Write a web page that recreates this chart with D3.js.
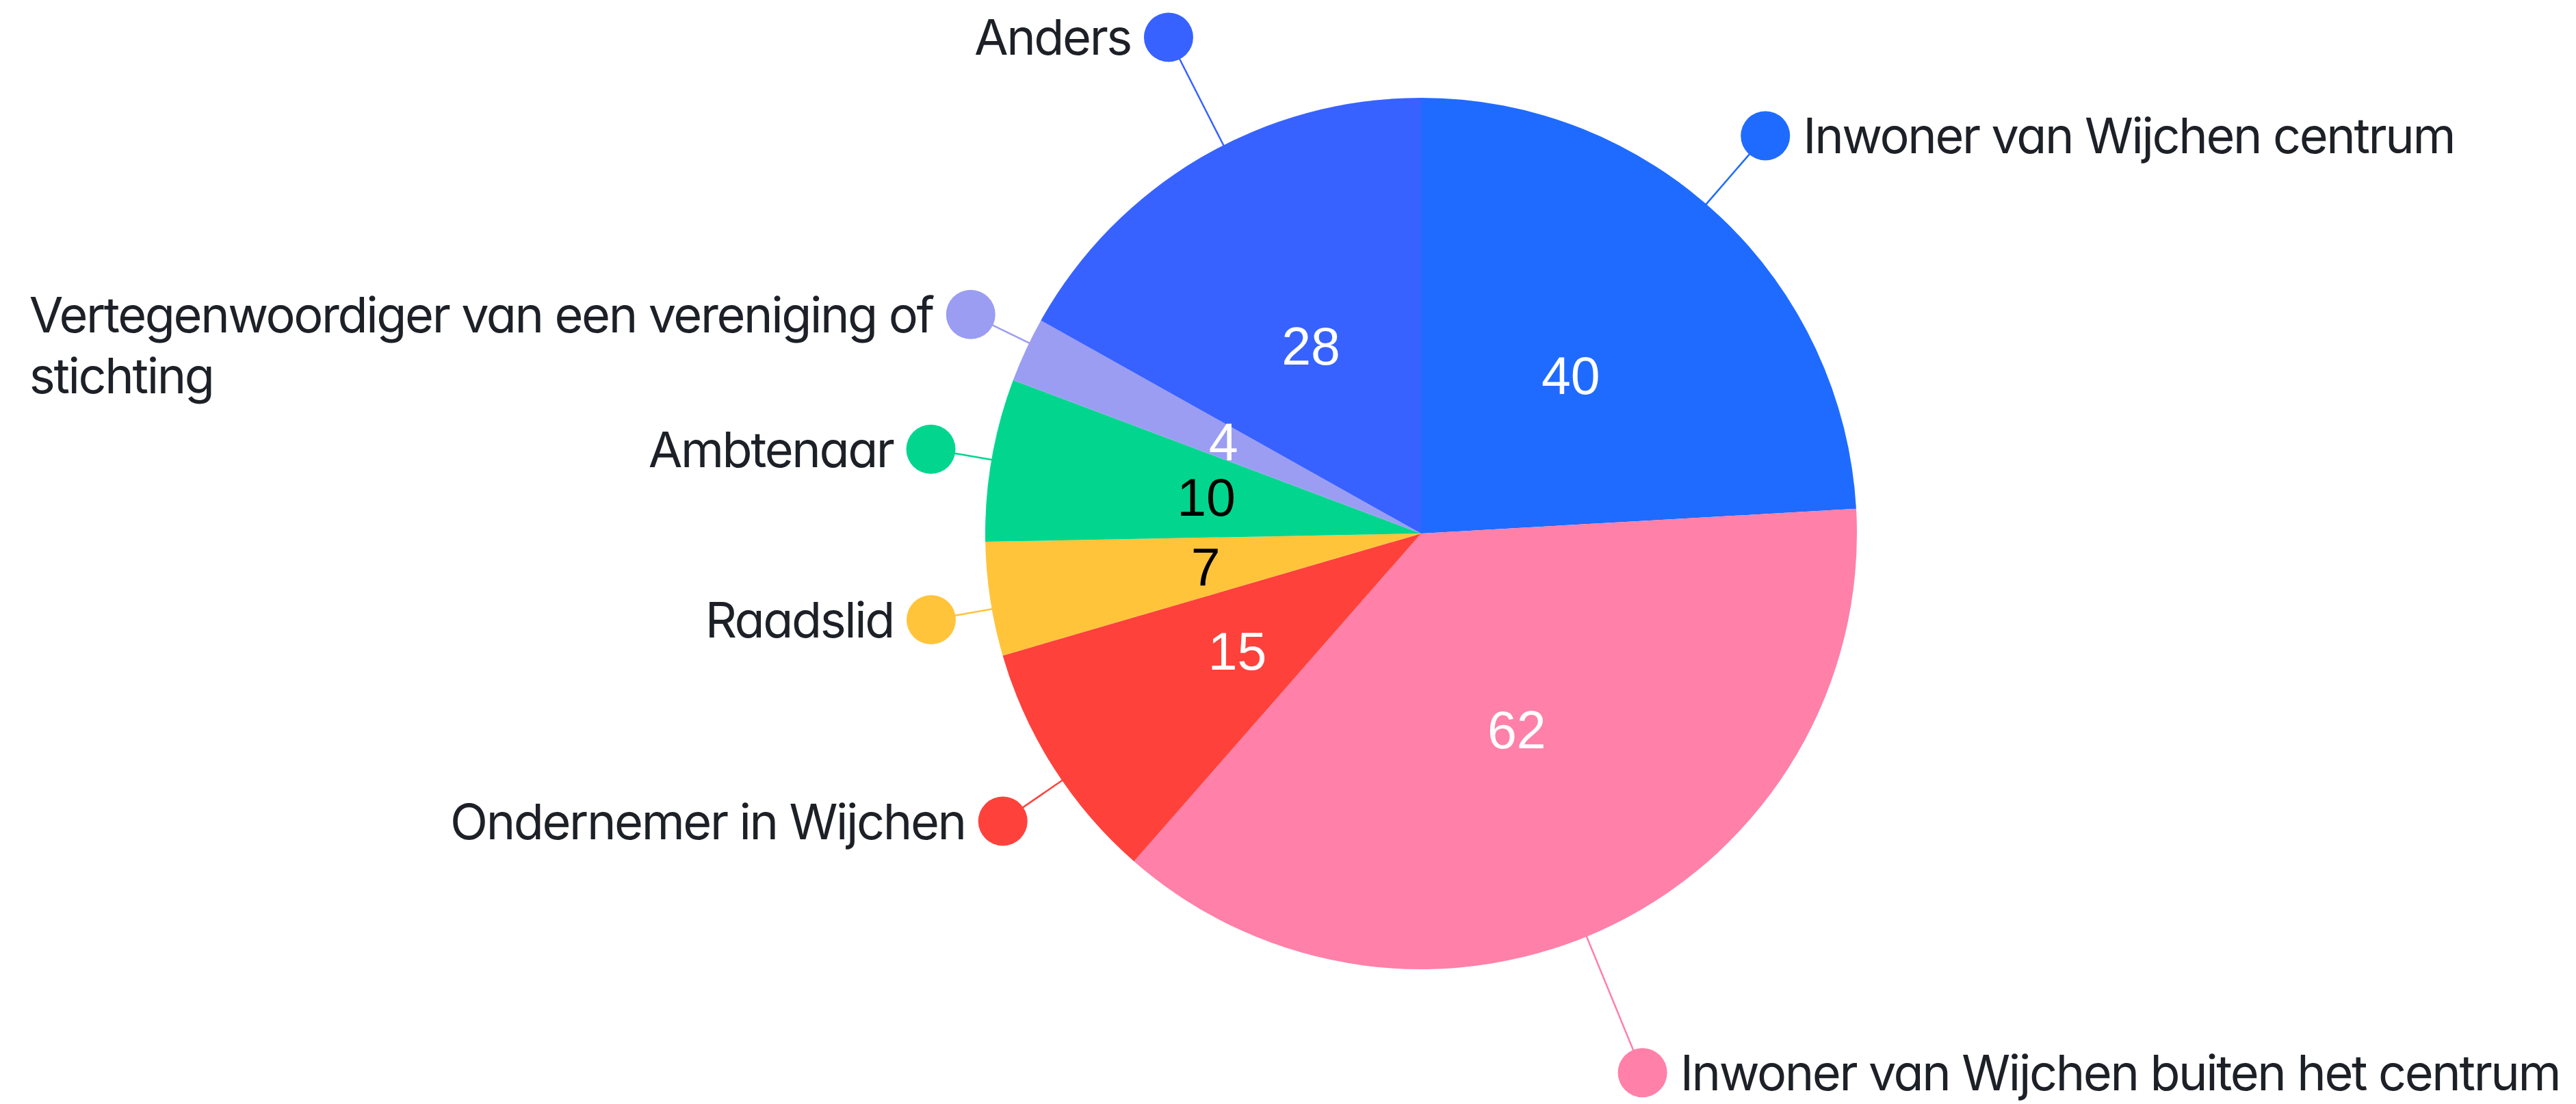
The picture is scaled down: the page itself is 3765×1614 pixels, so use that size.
<!DOCTYPE html>
<html>
<head>
<meta charset="utf-8">
<script src="https://cdn.jsdelivr.net/npm/d3@7"></script>
<style>
  body { margin: 0; background: #fff; }
  .label { font-family: Inter, Lato, sans-serif; font-feature-settings: "cv11"; fill: #1d2127; letter-spacing: -2.4px; }
  .value { font-family: "Liberation Sans", Arial, sans-serif; }
</style>
</head>
<body>
<div id="wrapper"></div>
<script>
// data
const categories = [
  "Inwoner van Wijchen centrum",
  "Inwoner van Wijchen buiten het centrum",
  "Ondernemer in Wijchen",
  "Raadslid",
  "Ambtenaar",
  "Vertegenwoordiger van een vereniging of|stichting",
  "Anders",
]
const values = [40, 62, 15, 7, 10, 4, 28]

// styling
const colors = ["#1f6bff", "#ff80a8", "#ff413c", "#ffc43a", "#02d68e", "#9b9df2", "#3862ff"]
const valueColors = ["#fff", "#fff", "#fff", "#000", "#000", "#fff", "#fff"]
// label placement: radial distance of the dot and a small angle nudge (deg)
const labelDist = [769, 852, 742, 727, 727, 732, 814]
const labelNudge = [-2.5, 3.7, -2, -1.3, 0, 1, 3.4]

function drawPie() {
  const dimensions = {
    width: 3765,
    height: 1614,
    cx: 2077,
    cy: 780,
    radius: 637,
  }

  const svg = d3.select("#wrapper")
    .append("svg")
      .attr("width", dimensions.width)
      .attr("height", dimensions.height)

  const bounds = svg.append("g")
      .attr("transform", `translate(${dimensions.cx},${dimensions.cy})`)

  const data = categories.map((c, i) => ({ name: c, value: values[i], i }))

  const pie = d3.pie()
    .sort(null)
    .value(d => d.value)

  const arcs = pie(data)

  const arc = d3.arc()
    .innerRadius(0)
    .outerRadius(dimensions.radius)

  const polar = (a, d) => [d * Math.sin(a), -d * Math.cos(a)]

  // slices
  bounds.append("g").selectAll("path")
    .data(arcs)
    .join("path")
      .attr("d", arc)
      .attr("fill", d => colors[d.data.i])

  // value labels
  bounds.append("g").selectAll("text")
    .data(arcs)
    .join("text")
      .attr("class", "value")
      .attr("transform", d => `translate(${arc.centroid(d)})`)
      .attr("text-anchor", "middle")
      .attr("dy", "0.36em")
      .attr("font-size", 77)
      .attr("fill", d => valueColors[d.data.i])
      .text(d => d.value)

  // connectors, dots and category labels
  const labels = bounds.append("g")
  arcs.forEach(d => {
    const i = d.data.i
    const a = (d.startAngle + d.endAngle) / 2 + labelNudge[i] * Math.PI / 180
    const [x0, y0] = polar(a, dimensions.radius - 4)
    const [x1, y1] = polar(a, labelDist[i])
    const right = x1 > 0

    labels.append("line")
        .attr("x1", x0).attr("y1", y0)
        .attr("x2", x1).attr("y2", y1)
        .attr("stroke", colors[i])
        .attr("stroke-width", 2.5)

    labels.append("circle")
        .attr("cx", x1).attr("cy", y1)
        .attr("r", 36)
        .attr("fill", colors[i])

    const lines = d.data.name.split("|")
    const text = labels.append("text")
        .attr("class", "label")
        .attr("font-size", 72)
        .attr("y", y1)
        .attr("dy", "0.36em")

    if (lines.length === 1) {
      text.attr("x", right ? x1 + 55 : x1 - 55)
          .attr("text-anchor", right ? "start" : "end")
          .text(lines[0])
    } else {
      // wrapped, left-aligned block ending next to the dot
      const first = text.append("tspan").text(lines[0])
      const w = first.node().getComputedTextLength()
      const left = x1 - 55 - w
      first.attr("x", left)
      lines.slice(1).forEach(l => {
        text.append("tspan")
            .attr("x", left)
            .attr("dy", 89)
            .text(l)
      })
    }
  })
}
drawPie()
</script>
</body>
</html>
